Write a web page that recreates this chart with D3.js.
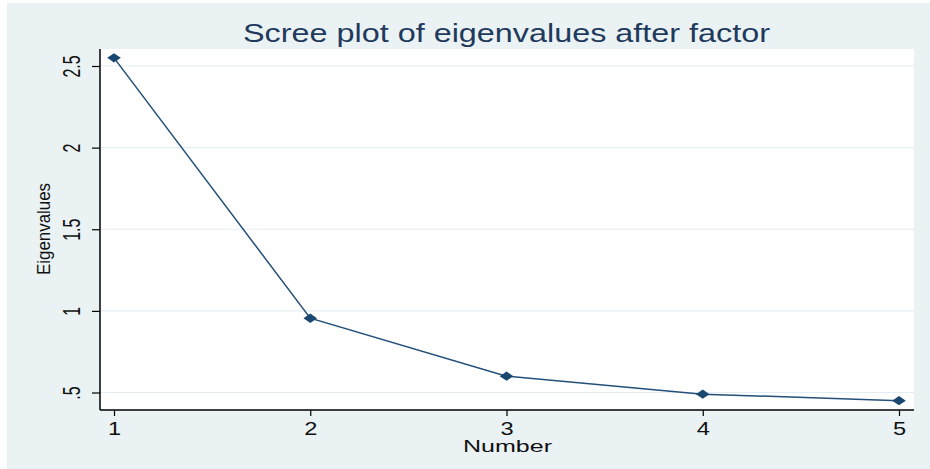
<!DOCTYPE html>
<html>
<head>
<meta charset="utf-8">
<script src="https://cdn.jsdelivr.net/npm/d3@7"></script>
<style>
  html, body { margin: 0; padding: 0; background: #ffffff; }
  svg { display: block; }
  text { font-family: "Liberation Sans", Arial, sans-serif; }
</style>
</head>
<body>
<script>
// Scree plot data: eigenvalue for each factor number
const factorNumbers = [1, 2, 3, 4, 5];
const eigenvalues = [2.55, 0.955, 0.60, 0.49, 0.45];
const yTickValues = [0.5, 1, 1.5, 2, 2.5];
const yTickLabels = [".5", "1", "1.5", "2", "2.5"];
const xTickValues = [1, 2, 3, 4, 5];

const W = 930, H = 469;
const plot = { left: 100, right: 914, top: 49, bottom: 410 };

const svg = d3.select("body").append("svg")
  .attr("width", W).attr("height", H);

// graph region background
svg.append("rect")
  .attr("x", 7).attr("y", 3).attr("width", W - 7).attr("height", H - 3)
  .attr("fill", "#eaf2f4");

// plot region
svg.append("rect")
  .attr("x", plot.left).attr("y", plot.top)
  .attr("width", plot.right - plot.left).attr("height", plot.bottom - plot.top)
  .attr("fill", "#ffffff");

const x = d3.scaleLinear().domain([1, 5]).range([114, 899]);
const y = d3.scaleLinear().domain([0.5, 2.5]).range([392.5, 66]);

// horizontal gridlines
svg.append("g").selectAll("line")
  .data(yTickValues)
  .join("line")
  .attr("x1", plot.left).attr("x2", plot.right)
  .attr("y1", d => y(d)).attr("y2", d => y(d))
  .attr("stroke", "#e4edf1").attr("stroke-width", 1.2);

// y axis: labels run vertically, widened horizontally
const yAxis = d3.axisLeft(y)
  .tickValues(yTickValues)
  .tickFormat((d, i) => yTickLabels[i])
  .tickSize(8).tickPadding(14);
const gy = svg.append("g").attr("transform", `translate(${plot.left},0)`).call(yAxis);
gy.select(".domain").remove();
gy.selectAll(".tick line").attr("stroke", "#000").attr("stroke-width", 1.2);
gy.selectAll(".tick text")
  .attr("font-size", 16).attr("fill", "#111")
  .attr("x", 0).attr("dy", null)
  .attr("text-anchor", "middle")
  .attr("y", 5.7)
  .attr("transform", "translate(-29,0) scale(1.5,1) rotate(-90)");

svg.append("line")
  .attr("x1", plot.left).attr("x2", plot.left)
  .attr("y1", plot.top).attr("y2", plot.bottom)
  .attr("stroke", "#000").attr("stroke-width", 1.5);

// x axis
const xAxis = d3.axisBottom(x)
  .tickValues(xTickValues)
  .tickFormat(d3.format("d"))
  .tickSize(6).tickPadding(6);
const gx = svg.append("g").attr("transform", `translate(0,${plot.bottom})`).call(xAxis);
gx.select(".domain").remove();
gx.selectAll(".tick line").attr("stroke", "#000").attr("stroke-width", 1.2);
gx.selectAll(".tick text")
  .attr("font-size", 17.5).attr("fill", "#111")
  .attr("dy", null).attr("y", 25.5)
  .attr("transform", "scale(1.35,1)");

svg.append("line")
  .attr("x1", plot.left).attr("x2", plot.right)
  .attr("y1", plot.bottom).attr("y2", plot.bottom)
  .attr("stroke", "#000").attr("stroke-width", 1.5);

// scree line and markers
const pts = factorNumbers.map((n, i) => [n, eigenvalues[i]]);
svg.append("path")
  .datum(pts)
  .attr("fill", "none")
  .attr("stroke", "#234f78").attr("stroke-width", 1.5)
  .attr("d", d3.line().x(d => x(d[0])).y(d => y(d[1])));

// wide diamond markers: a square turned 45 degrees, stretched sideways
svg.append("g").selectAll("path")
  .data(pts)
  .join("path")
  .attr("transform", d => `translate(${x(d[0])},${y(d[1])}) scale(1.45,1) rotate(45)`)
  .attr("d", d3.symbol(d3.symbolSquare, 44))
  .attr("fill", "#1a476f");

// titles
svg.append("text")
  .attr("x", 506.5).attr("y", 42)
  .attr("text-anchor", "middle")
  .attr("font-size", 25)
  .attr("textLength", 527).attr("lengthAdjust", "spacingAndGlyphs")
  .attr("fill", "#1f3a5c")
  .text("Scree plot of eigenvalues after factor");

svg.append("text")
  .attr("x", 507.5).attr("y", 452)
  .attr("text-anchor", "middle")
  .attr("font-size", 16.5)
  .attr("textLength", 89).attr("lengthAdjust", "spacingAndGlyphs")
  .attr("fill", "#111")
  .text("Number");

svg.append("text")
  .attr("transform", "translate(50,229) rotate(-90)")
  .attr("text-anchor", "middle")
  .attr("font-size", 18)
  .attr("textLength", 92).attr("lengthAdjust", "spacingAndGlyphs")
  .attr("fill", "#111")
  .text("Eigenvalues");
</script>
</body>
</html>
